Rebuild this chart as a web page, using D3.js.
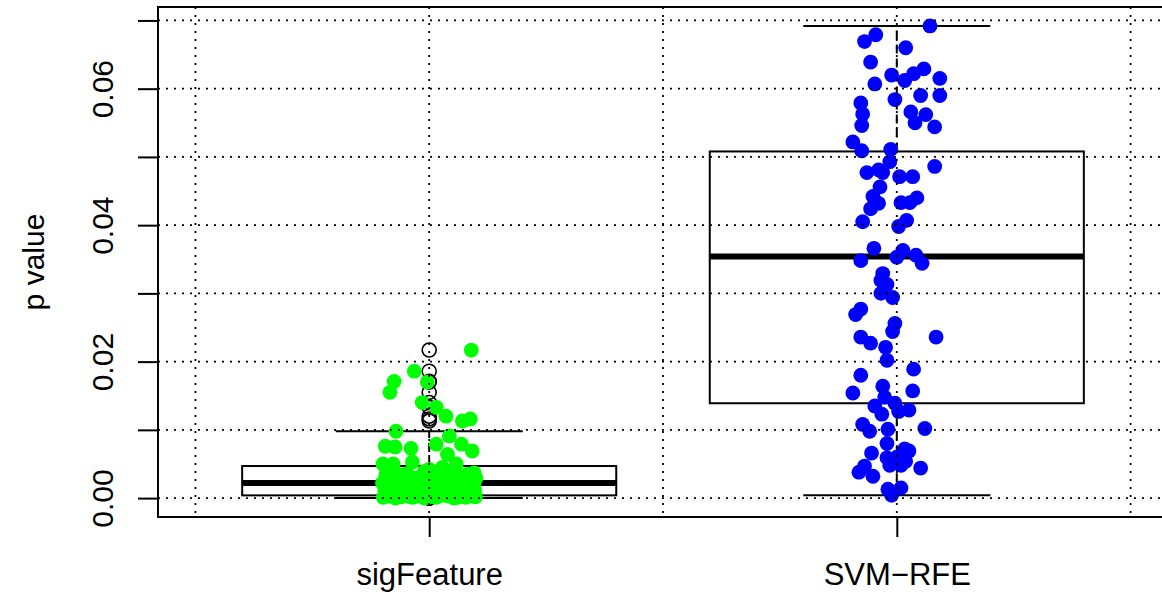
<!DOCTYPE html>
<html lang="en">
<head>
    <meta charset="utf-8" />
    <title>p value boxplot</title>
    <script src="https://d3js.org/d3.v7.min.js"></script>
    <style>
        body { margin: 0; background: #fff; }
        text { font-family: "Liberation Sans", Arial, sans-serif; fill: #000; }
    </style>
</head>
<body>
    <div id="chart"></div>
    <script>
        // Groups
        const categories = ["sigFeature", "SVM\u2212RFE"];

        // Box statistics: [lower whisker, Q1, median, Q3, upper whisker]
        const sigFeatureStats = [0.00003, 0.0004, 0.0022, 0.0047, 0.0098];
        const svmRfeStats = [0.0004, 0.0139, 0.0354, 0.0508, 0.0692];

        // Jittered points: p values and horizontal jitter (in group units)
        const sigFeatureValues = [
            0.0217, 0.0186, 0.0171, 0.0155, 0.0170, 0.0140, 0.0133, 0.0120, 0.0113, 0.0116,
            0.0098, 0.0091, 0.0076, 0.0075, 0.0073, 0.0079, 0.0079, 0.0069, 0.0064, 0.0053,
            0.0050, 0.0050, 0.0050, 0.0045, 0.0042, 0.0037,
            0.0001, 0.0003, 0.0000, 0.0002, 0.0004, 0.0001, 0.0003, 0.0000, 0.0002, 0.0001,
            0.0004, 0.0003, 0.0000, 0.0002, 0.0001, 0.0003, 0.0002, 0.0004, 0.0002, 0.0004,
            0.0001, 0.0004,
            0.0012, 0.0007, 0.0014, 0.0009, 0.0011, 0.0006, 0.0013, 0.0008, 0.0015, 0.0010,
            0.0007, 0.0012, 0.0009, 0.0014, 0.0006, 0.0011,
            0.0022, 0.0018, 0.0025, 0.0016, 0.0027, 0.0020, 0.0024, 0.0017, 0.0028, 0.0021,
            0.0019, 0.0026, 0.0023, 0.0017, 0.0027, 0.0020,
            0.0034, 0.0040, 0.0031, 0.0036, 0.0030, 0.0039, 0.0033, 0.0041, 0.0032, 0.0038,
            0.0030, 0.0035, 0.0029
        ];
        const sigFeatureJitter = [
            0.090, -0.032, -0.075, -0.084, -0.004, -0.015, 0.015, 0.036, 0.071, 0.088,
            -0.071, 0.043, -0.094, -0.073, -0.039, 0.015, 0.069, 0.092, 0.039, -0.036,
            -0.099, -0.077, 0.058, 0.028, 0.000, 0.096,
            -0.098, -0.085, -0.072, -0.060, -0.047, -0.035, -0.022, -0.010, 0.003, 0.015,
            0.028, 0.040, 0.053, 0.066, 0.078, 0.091, 0.099, -0.091, -0.041, 0.009,
            0.060, 0.085,
            -0.095, -0.080, -0.066, -0.053, -0.040, -0.028, -0.015, 0.000, 0.012, 0.025,
            0.037, 0.050, 0.063, 0.075, 0.088, 0.097,
            -0.100, -0.087, -0.070, -0.057, -0.044, -0.030, -0.018, -0.005, 0.008, 0.020,
            0.034, 0.047, 0.058, 0.072, 0.084, 0.095,
            -0.093, -0.075, -0.062, -0.048, -0.025, -0.010, 0.005, 0.030, 0.043, 0.055,
            0.070, 0.082, 0.100
        ];

        const svmRfeValues = [
            0.0692, 0.0679, 0.0669, 0.0660, 0.0639, 0.0620, 0.0629, 0.0622, 0.0612, 0.0615,
            0.0607, 0.0584, 0.0590, 0.0590, 0.0579, 0.0563, 0.0566, 0.0562, 0.0546, 0.0550,
            0.0544, 0.0522, 0.0509, 0.0511, 0.0493, 0.0486, 0.0477, 0.0481, 0.0477, 0.0471,
            0.0471, 0.0456, 0.0442, 0.0432, 0.0424, 0.0433, 0.0433, 0.0440, 0.0405, 0.0407,
            0.0398, 0.0366, 0.0348, 0.0353, 0.0363, 0.0356, 0.0344, 0.0329, 0.0319, 0.0313,
            0.0300, 0.0294, 0.0277, 0.0269, 0.0256, 0.0244, 0.0236, 0.0236, 0.0227, 0.0221,
            0.0202, 0.0189, 0.0180, 0.0164, 0.0157, 0.0154, 0.0148, 0.0139, 0.0135, 0.0123,
            0.0127, 0.0129, 0.0108, 0.0098, 0.0101, 0.0102, 0.0080, 0.0072, 0.0069, 0.0066,
            0.0059, 0.0060, 0.0054, 0.0048, 0.0047, 0.0038, 0.0032, 0.0044, 0.0048, 0.0013,
            0.0015, 0.0004
        ];
        const svmRfeJitter = [
            0.071, -0.045, -0.069, 0.019, -0.056, -0.011, 0.058, 0.036, 0.017, 0.092,
            -0.047, -0.004, 0.051, 0.092, -0.077, -0.073, 0.030, 0.062, -0.075, 0.039,
            0.081, -0.094, -0.075, -0.013, -0.015, 0.081, -0.064, -0.039, -0.030, 0.006,
            0.034, -0.036, -0.051, -0.039, -0.056, 0.009, 0.028, 0.043, -0.073, 0.021,
            0.004, -0.049, -0.077, 0.000, 0.013, 0.041, 0.054, -0.030, -0.034, -0.021,
            -0.034, -0.009, -0.077, -0.088, -0.004, -0.009, -0.077, 0.084, -0.056, -0.024,
            -0.021, 0.036, -0.077, -0.030, 0.034, -0.094, -0.026, -0.004, -0.047, -0.032,
            0.004, 0.026, -0.073, -0.058, -0.019, 0.060, -0.021, 0.017, 0.026, -0.054,
            -0.021, 0.000, 0.019, -0.015, -0.069, -0.081, -0.051, 0.051, 0.009, -0.019,
            0.009, -0.011
        ];

        const pointColors = ["#00ff00", "#0000ff"];
        const yTicks = [0, 0.01, 0.02, 0.03, 0.04, 0.05, 0.06, 0.07];
        const yTickLabels = ["0.00", "", "0.02", "", "0.04", "", "0.06", ""];
        const xGrid = [0.5, 1, 1.5, 2, 2.5];

        const groups = [
            { stats: sigFeatureStats, values: sigFeatureValues, jitter: sigFeatureJitter },
            { stats: svmRfeStats, values: svmRfeValues, jitter: svmRfeJitter }
        ];

        // SVG and plotting frame
        const W = 1162, H = 596;
        const frame = { left: 158, right: 1168, top: 7, bottom: 517 };

        const svg = d3.select("#chart")
            .append("svg")
            .attr("width", W)
            .attr("height", H);

        const x = d3.scaleLinear().domain([0.42, 2.58]).range([frame.left, frame.right]);
        const y = d3.scaleLinear().domain([-0.00277, 0.07197]).range([frame.bottom, frame.top]);

        const plot = svg.append("g");

        // Boxes
        const boxHalf = 0.4, stapleHalf = 0.2;
        groups.forEach((g, i) => {
            const c = i + 1;
            const [lo, q1, med, q3, hi] = g.stats;
            const gg = plot.append("g");
            // whiskers (dashed)
            gg.append("line")
                .attr("x1", x(c)).attr("x2", x(c))
                .attr("y1", y(q3)).attr("y2", y(hi))
                .attr("stroke", "#000").attr("stroke-width", 2).attr("stroke-dasharray", "9,5");
            gg.append("line")
                .attr("x1", x(c)).attr("x2", x(c))
                .attr("y1", y(q1)).attr("y2", y(lo))
                .attr("stroke", "#000").attr("stroke-width", 2).attr("stroke-dasharray", "9,5");
            // staples
            [lo, hi].forEach(v => {
                gg.append("line")
                    .attr("x1", x(c - stapleHalf)).attr("x2", x(c + stapleHalf))
                    .attr("y1", y(v)).attr("y2", y(v))
                    .attr("stroke", "#000").attr("stroke-width", 2);
            });
            // box
            gg.append("rect")
                .attr("x", x(c - boxHalf))
                .attr("y", y(q3))
                .attr("width", x(c + boxHalf) - x(c - boxHalf))
                .attr("height", y(q1) - y(q3))
                .attr("fill", "none").attr("stroke", "#000").attr("stroke-width", 2);
            // median
            gg.append("line")
                .attr("x1", x(c - boxHalf)).attr("x2", x(c + boxHalf))
                .attr("y1", y(med)).attr("y2", y(med))
                .attr("stroke", "#000").attr("stroke-width", 6);
            // outliers (open circles)
            gg.selectAll(".out")
                .data(g.values.filter(v => v > hi || v < lo))
                .enter().append("circle")
                .attr("cx", x(c))
                .attr("cy", d => y(d))
                .attr("r", 7)
                .attr("fill", "none")
                .attr("stroke", "#000")
                .attr("stroke-width", 1.6);
        });

        // Jittered points
        groups.forEach((g, i) => {
            const c = i + 1;
            plot.append("g").selectAll("circle")
                .data(g.values.map((v, k) => ({ v: v, j: g.jitter[k] })))
                .enter().append("circle")
                .attr("cx", d => x(c + d.j))
                .attr("cy", d => y(d.v))
                .attr("r", 7.4)
                .attr("fill", pointColors[i]);
        });

        // Grid (dotted, drawn on top)
        const grid = svg.append("g")
            .attr("stroke", "#000")
            .attr("stroke-width", 1.8)
            .attr("stroke-dasharray", "2,6");
        grid.selectAll(".hg")
            .data(yTicks)
            .enter().append("line")
            .attr("x1", frame.left).attr("x2", frame.right)
            .attr("y1", d => y(d)).attr("y2", d => y(d));
        grid.selectAll(".vg")
            .data(xGrid)
            .enter().append("line")
            .attr("x1", d => x(d)).attr("x2", d => x(d))
            .attr("y1", frame.top).attr("y2", frame.bottom);

        // Frame
        svg.append("rect")
            .attr("x", frame.left).attr("y", frame.top)
            .attr("width", frame.right - frame.left)
            .attr("height", frame.bottom - frame.top)
            .attr("fill", "none").attr("stroke", "#000").attr("stroke-width", 2);

        // Y axis
        const yAxis = d3.axisLeft(y)
            .tickValues(yTicks)
            .tickSize(20)
            .tickFormat((d, k) => yTickLabels[k]);
        const ya = svg.append("g")
            .attr("transform", `translate(${frame.left},0)`)
            .call(yAxis);
        ya.select(".domain").remove();
        ya.selectAll(".tick line").attr("stroke", "#000").attr("stroke-width", 2);
        ya.selectAll(".tick text")
            .attr("x", null).attr("dy", null)
            .attr("transform", "translate(-45,0) rotate(-90)")
            .attr("text-anchor", "middle")
            .attr("font-size", 30);

        // X axis
        const xAxis = d3.axisBottom(x)
            .tickValues([1, 2])
            .tickSize(20)
            .tickFormat((d, k) => categories[k]);
        const xa = svg.append("g")
            .attr("transform", `translate(0,${frame.bottom})`)
            .call(xAxis);
        xa.select(".domain").remove();
        xa.selectAll(".tick line").attr("stroke", "#000").attr("stroke-width", 2);
        xa.selectAll(".tick text")
            .attr("y", 68).attr("dy", null)
            .attr("font-size", 31);

        // Y axis title
        svg.append("text")
            .attr("transform", `translate(44,${(frame.top + frame.bottom) / 2}) rotate(-90)`)
            .attr("text-anchor", "middle")
            .attr("font-size", 30)
            .text("p value");
    </script>
</body>
</html>
